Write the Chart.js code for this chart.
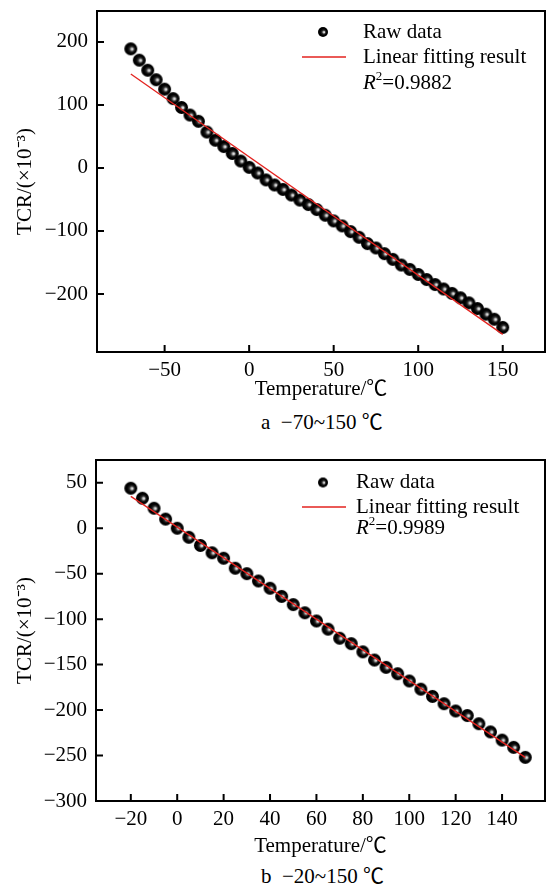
<!DOCTYPE html>
<html>
<head>
<meta charset="utf-8">
<script src="https://cdn.jsdelivr.net/npm/chart.js@4.4.1/dist/chart.umd.min.js"></script>
<style>
  body { margin: 0; background: #fff; width: 552px; height: 890px; position: relative; overflow: hidden; }
  .box { position: absolute; left: 0; }
  .caption { position: absolute; left: 261px; font: 21px "Liberation Serif", "Noto Sans CJK SC", serif; line-height: 25px; white-space: pre; color: #000; }
</style>
</head>
<body>
<div class="box" style="top:0"><canvas id="chartA" width="552" height="402"></canvas></div>
<div class="caption" style="top:410px">a  −70~150 ℃</div>
<div class="box" style="top:440px"><canvas id="chartB" width="552" height="419"></canvas></div>
<div class="caption" style="top:864px">b  −20~150 ℃</div>

<script>
// panel a: -70 ~ 150 °C
const tempA = [-70, -65, -60, -55, -50, -45, -40, -35, -30, -25, -20, -15, -10, -5, 0, 5, 10, 15, 20, 25,
  30, 35, 40, 45, 50, 55, 60, 65, 70, 75, 80, 85, 90, 95, 100, 105, 110, 115, 120, 125, 130, 135, 140, 145, 150];
const tcrA = [189, 171, 155, 140, 125, 110, 96, 84, 74, 57, 44, 34, 23, 11, 1, -8, -19, -27, -34, -43,
  -51, -58, -66, -75, -84, -92, -101, -110, -120, -127, -136, -145, -154, -161, -169, -177, -185, -192, -199, -206,
  -214, -223, -232, -240, -253];
const fitXA = [-70, 150];
const fitYA = [149, -264];
const r2A = '0.9882';
const xTicksA = [-50, 0, 50, 100, 150];
const yTicksA = [-200, -100, 0, 100, 200];

// panel b: -20 ~ 150 °C
const tempB = [-20, -15, -10, -5, 0, 5, 10, 15, 20, 25, 30, 35, 40, 45, 50, 55, 60, 65, 70, 75,
  80, 85, 90, 95, 100, 105, 110, 115, 120, 125, 130, 135, 140, 145, 150];
const tcrB = [44, 33, 22, 10, 0, -10, -19, -27, -33, -44, -50, -58, -66, -75, -84, -93, -102, -111, -121, -127,
  -136, -145, -153, -160, -168, -177, -185, -193, -201, -206, -215, -224, -233, -241, -252];
const fitXB = [-20, 150];
const fitYB = [35, -252];
const r2B = '0.9989';
const xTicksB = [-20, 0, 20, 40, 60, 80, 100, 120, 140];
const yTicksB = [-300, -250, -200, -150, -100, -50, 0, 50];

const legendLabels = ['Raw data', 'Linear fitting result'];
const xTitle = 'Temperature/℃';
const yTitle = 'TCR/(×10⁻³)';

const FONT = '"Liberation Serif", "Noto Sans CJK SC", serif';
const RED = '#e3231f';

document.addEventListener('DOMContentLoaded', () => {
  Chart.defaults.font.family = FONT;
  Chart.defaults.font.size = 21;
  Chart.defaults.color = '#000';
  const font21 = { family: FONT, size: 21 };

  // black glossy ball used as the marker
  function makeSphere(r) {
    const c = document.createElement('canvas');
    c.width = c.height = Math.ceil(r * 2 + 2);
    const g = c.getContext('2d');
    const cx = c.width / 2, cy = c.height / 2;
    const grad = g.createRadialGradient(cx + r * 0.25, cy + r * 0.05, 0, cx, cy, r);
    grad.addColorStop(0, '#ffffff');
    grad.addColorStop(0.16, '#c0c0c0');
    grad.addColorStop(0.38, '#2a2a2a');
    grad.addColorStop(0.65, '#000000');
    grad.addColorStop(1, '#000000');
    g.fillStyle = grad;
    g.beginPath();
    g.arc(cx, cy, r, 0, Math.PI * 2);
    g.fill();
    return c;
  }
  const ball = makeSphere(6.5);
  const ballSmall = makeSphere(5);

  const fmt = v => (v < 0 ? '\u2212' + Math.abs(v) : String(v));

  // frame, inward ticks and in-plot legend
  function framePlugin(leg, r2) {
    return {
      id: 'frame',
      afterDraw(chart) {
        const { ctx, chartArea: a, scales } = chart;
        ctx.save();
        ctx.strokeStyle = '#000';
        ctx.lineWidth = 2;
        ctx.strokeRect(a.left, a.top, a.right - a.left, a.bottom - a.top);
        ctx.beginPath();
        scales.x.ticks.forEach(t => {
          const px = scales.x.getPixelForValue(t.value);
          ctx.moveTo(px, a.bottom);
          ctx.lineTo(px, a.bottom - 7);
        });
        scales.y.ticks.forEach(t => {
          const py = scales.y.getPixelForValue(t.value);
          ctx.moveTo(a.left, py);
          ctx.lineTo(a.left + 7, py);
        });
        ctx.stroke();

        // legend
        ctx.drawImage(ballSmall, leg.markX - ballSmall.width / 2, leg.rows[0] - ballSmall.height / 2);
        ctx.strokeStyle = RED;
        ctx.lineWidth = 1.4;
        ctx.beginPath();
        ctx.moveTo(leg.lineX1, leg.rows[1]);
        ctx.lineTo(leg.lineX2, leg.rows[1]);
        ctx.stroke();
        ctx.fillStyle = '#000';
        ctx.textBaseline = 'middle';
        ctx.textAlign = 'left';
        ctx.font = '21px ' + FONT;
        ctx.fillText(legendLabels[0], leg.textX, leg.rows[0]);
        ctx.fillText(legendLabels[1], leg.textX, leg.rows[1]);
        // R²=...
        let x = leg.textX;
        ctx.font = 'italic 21px ' + FONT;
        ctx.fillText('R', x, leg.rows[2]);
        x += ctx.measureText('R').width;
        ctx.font = '13px ' + FONT;
        ctx.fillText('2', x, leg.rows[2] - 6);
        x += ctx.measureText('2').width;
        ctx.font = '21px ' + FONT;
        ctx.fillText('=' + r2, x, leg.rows[2]);
        ctx.restore();
      }
    };
  }

  function buildChart(id, temps, tcr, fitX, fitY, range, xTicks, yTicks, dims, leg, r2) {
    const ctx = document.getElementById(id).getContext('2d');
    return new Chart(ctx, {
      type: 'scatter',
      data: {
        datasets: [
          {
            label: legendLabels[0],
            data: temps.map((t, i) => ({ x: t, y: tcr[i] })),
            pointStyle: ball,
            pointRadius: 6,
            order: 2
          },
          {
            label: legendLabels[1],
            data: fitX.map((t, i) => ({ x: t, y: fitY[i] })),
            showLine: true,
            borderColor: RED,
            borderWidth: 1.3,
            pointRadius: 0,
            order: 1
          }
        ]
      },
      options: {
        responsive: false,
        animation: false,
        layout: { padding: { top: dims.top, right: dims.right, left: 0, bottom: 0 } },
        plugins: { legend: { display: false }, tooltip: { enabled: false } },
        scales: {
          x: {
            type: 'linear',
            min: range.xMin, max: range.xMax,
            grid: { display: false, drawTicks: false },
            border: { display: false },
            ticks: { padding: 6, callback: fmt, maxRotation: 0, font: font21, color: '#000' },
            afterBuildTicks: s => { s.ticks = xTicks.map(v => ({ value: v })); },
            afterFit: s => { s.height = dims.xHeight; s.paddingLeft = 0; s.paddingRight = 0; },
            title: { display: true, text: xTitle, font: font21, color: '#000', padding: { top: 0, bottom: 0 } }
          },
          y: {
            type: 'linear',
            min: range.yMin, max: range.yMax,
            grid: { display: false, drawTicks: false },
            border: { display: false },
            ticks: { padding: 9, callback: fmt, font: font21, color: '#000' },
            afterBuildTicks: s => { s.ticks = yTicks.map(v => ({ value: v })); },
            afterFit: s => { s.width = dims.yWidth; s.paddingTop = 0; s.paddingBottom = 0; },
            title: { display: true, text: yTitle, font: font21, color: '#000', padding: { top: 13, bottom: 0 } }
          }
        }
      },
      plugins: [framePlugin(leg, r2)]
    });
  }

  buildChart('chartA', tempA, tcrA, fitXA, fitYA,
    { xMin: -90, xMax: 175, yMin: -292, yMax: 249 }, xTicksA, yTicksA,
    { top: 11, right: 1, xHeight: 50, yWidth: 97 },
    { markX: 323, textX: 363, lineX1: 302, lineX2: 346, rows: [32, 57, 83] }, r2A);

  buildChart('chartB', tempB, tcrB, fitXB, fitYB,
    { xMin: -35, xMax: 158.5, yMin: -300, yMax: 75 }, xTicksB, yTicksB,
    { top: 20, right: 3, xHeight: 58, yWidth: 96 },
    { markX: 323, textX: 356, lineX1: 302, lineX2: 346, rows: [42.5, 67, 88] }, r2B);
});
</script>
</body>
</html>
